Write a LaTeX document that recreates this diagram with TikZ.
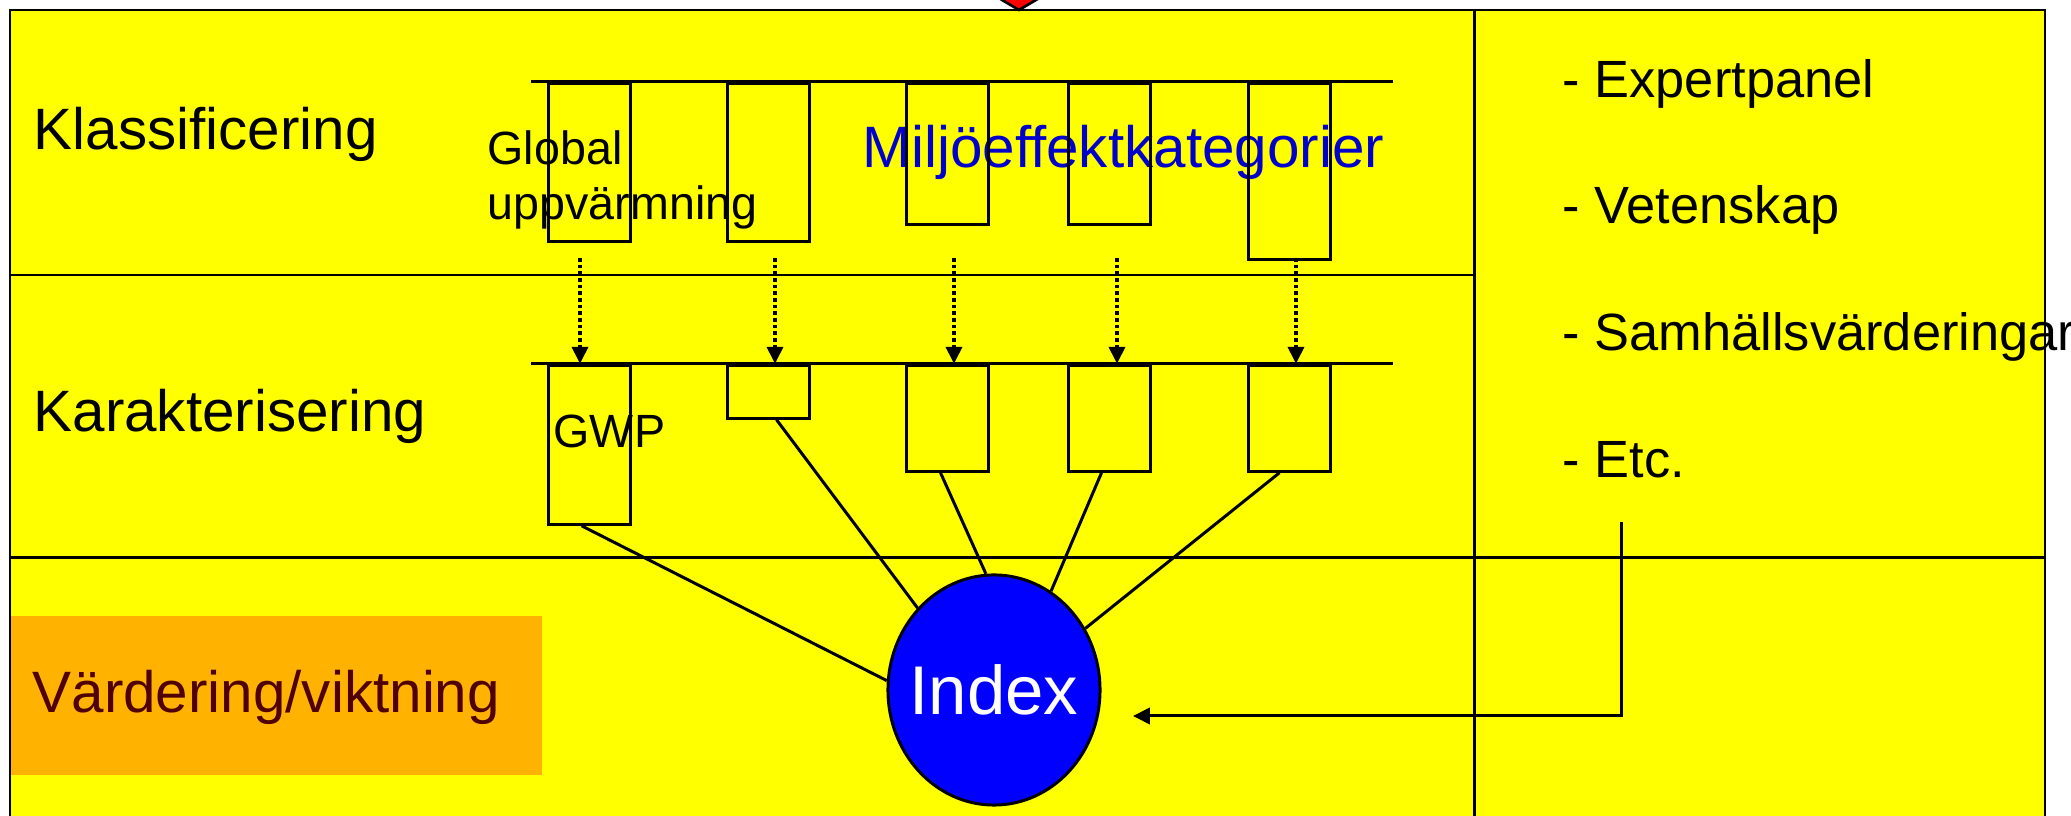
\documentclass[tikz,border=0pt]{standalone}
\usepackage{fontspec}
\setmainfont{Liberation Sans}
\usetikzlibrary{arrows.meta,shapes.geometric}
\definecolor{panel}{RGB}{255,255,0}
\definecolor{weigh}{RGB}{255,179,0}
\definecolor{weightext}{RGB}{80,0,0}
\definecolor{cattext}{RGB}{0,0,204}
\definecolor{indexfill}{RGB}{0,0,255}
\definecolor{topmark}{RGB}{255,0,0}
\begin{document}
\begin{tikzpicture}[x=0.01cm,y=-0.01cm,>={Triangle[length=4.8pt,width=4.6pt]}]
	\tikzset{every node/.style={inner sep=0pt},
		frame/.style={line width=0.75pt},
		catbox/.style={draw,line width=0.85pt,minimum width=0.82cm,anchor=north west},
		stage/.style={anchor=base west,font=\fontsize{16.6}{19}\selectfont},
		note/.style={anchor=base west,font=\fontsize{14.9}{17}\selectfont},
		small/.style={anchor=base west,font=\fontsize{13.26}{15.65}\selectfont},
		flow/.style={->,line width=0.9pt,dash pattern=on 1pt off 0.9pt},
		link/.style={line width=0.85pt}}
	\useasboundingbox (0,0) rectangle (2071,816);
	% panels
	\fill[panel] (10,10) rectangle (2045,830);
	\fill[weigh] (10,616) rectangle (542,775);
	\draw[frame] (10,830) -- (10,10) -- (2045,10) -- (2045,830);
	\draw[frame] (1474.5,10) -- (1474.5,830);
	\draw[frame] (10,275) -- (1474.5,275);
	\draw[frame] (10,557.5) -- (2045,557.5);
	\filldraw[fill=topmark,line width=0.75pt] (997,-3) -- (1019,10) -- (1041,-3);
	% labels
	\node[stage] (klass) at (33,150) {Klassificering};
	\node[stage] (karakt) at (33,432) {Karakterisering};
	\node[stage,text=weightext] (vard) at (32,713) {Värdering/viktning};
	\node[stage,text=cattext] (kat) at (862,168) {Miljöeffektkategorier};
	\node[small,align=left] (glob) at (487,220) {Global\\uppvärmning};
	\node[small] (gwp) at (553,448) {GWP};
	\foreach \t/\y [count=\i] in {Expertpanel/97.4,Vetenskap/224,Samhällsvärderingar/350.5,Etc./477.6}
		\node[note] (src\i) at (1562,\y) {- \t};
	% bars and boxes
	\draw[link] (531,82) -- (1393,82);
	\draw[link] (531,363.7) -- (1393,363.7);
	\foreach \n/\x/\h in {1/547/1.58,2/726/1.58,3/905/1.41,4/1067/1.41,5/1247/1.76}
		\node[catbox,minimum height=\h cm] (k\n) at (\x,82) {};
	\foreach \n/\x/\h in {1/547/1.59,2/726/0.53,3/905/1.06,4/1067/1.06,5/1247/1.06}
		\node[catbox,minimum height=\h cm] (c\n) at (\x,363.7) {};
	\foreach \n/\x in {1/580,2/775,3/954,4/1117,5/1296}{
		\coordinate (a\n) at (\x,258);
		\draw[flow] (a\n) -- (a\n |- c\n.north);
	}
	% index
	\node[ellipse,draw,line width=0.85pt,fill=indexfill,minimum width=2.12cm,minimum height=2.3cm] (index) at (994,690) {};
	\node[text=white,font=\fontsize{19.6}{22}\selectfont] (indextext) at (index) {Index};
	\draw[link] ([xshift=-0.08cm]c1.south) -- (index.175);
	\draw[link] ([xshift=0.08cm]c2.south) -- (index.133);
	\draw[link] ([xshift=-0.07cm]c3.south) -- (index.94);
	\draw[link] ([xshift=-0.08cm]c4.south) -- (index.60);
	\draw[link] ([xshift=-0.1cm]c5.south) -- (index.34);
	% feedback
	\coordinate (fb) at (1621,522);
	\coordinate (fbend) at (1133,716);
	\draw[link,->] (fb) -- (fb |- fbend) -- (fbend);
\end{tikzpicture}
\end{document}
